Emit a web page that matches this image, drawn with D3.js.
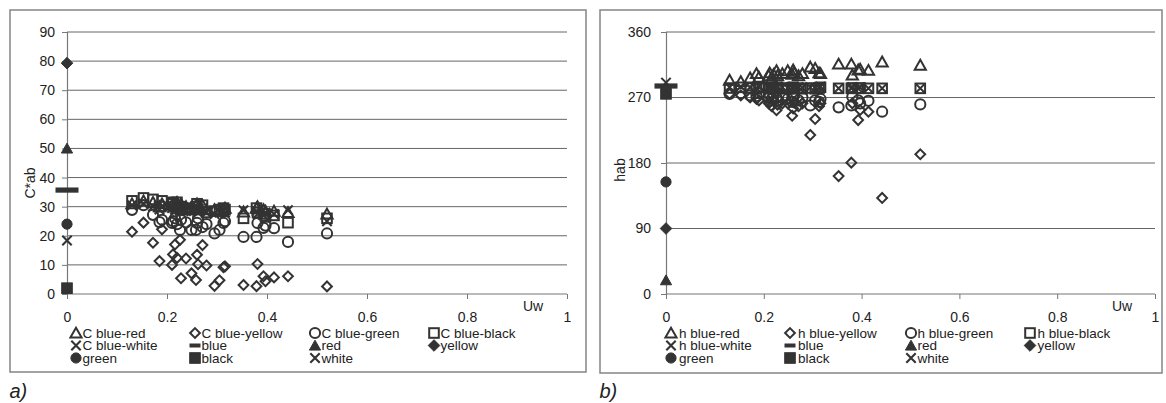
<!DOCTYPE html>
<html><head><meta charset="utf-8">
<script src="https://cdn.jsdelivr.net/npm/d3@7"></script>
<style>
body{margin:0;background:#fff}
text{font-family:"Liberation Sans",Arial,sans-serif;fill:#222}
</style>
</head><body>
<svg id="c" width="1166" height="403"></svg>
<script>
// ---- data ----
const uw = [0.130,0.153,0.172,0.185,0.190,0.210,0.212,0.216,0.220,0.226,0.228,0.238,0.249,0.258,0.260,0.262,0.271,0.279,0.295,0.305,0.313,0.316,0.353,0.379,0.381,0.393,0.397,0.414,0.442,0.520];

const cBlueRed    = [31,32,31.5,30,31,30.5,31,30,31.5,30,31,30,29.5,30.5,31,29.5,30.5,29,29,28.5,29,29.5,28.2,29.5,30,29,28.5,28.5,28,27.5];
const cBlueYellow = [21.4,24.5,17.6,11.3,22.2,10,13.6,17,12.4,18.6,5.4,12.2,7.1,4.8,13.5,10.2,16.8,9.8,2.8,4.7,9.2,9.5,3.1,2.7,10.3,6.1,4.4,5.7,6.1,2.6];
const cBlueGreen  = [28.9,30.5,27.2,24.7,25.5,24.4,25,26,24,22,25.5,24.6,22,22,24.4,26,23,24,20.8,22,24.4,25,19.6,19.6,24.4,22.7,23.5,22.6,17.9,20.8];
const cBlueBlack  = [32,33,32.5,30,32,31,31.5,30,31.5,30,29,29.5,29,30,31,29,30.5,28,28.5,29,29.5,29,26,29.5,28,27.5,26.5,27,24.5,26];
const cBlueWhite  = [30.5,31,30,29,30,29.5,30,29,29.5,28.5,29.5,28.5,28.5,29,29.5,28,29,28,27.5,28,28.5,28,28.8,28.5,27.5,27,28,27.5,28.8,25];

const hBlueRed    = [294,292,297,303,298,300,304,297,302,307,300,303,307,302,308,304,300,303,312,310,304,303,316,316,301,308,309,307.5,319,314.5];
const hBlueYellow = [275,273,270,268,266,262,264,258,265,252.5,260,262,262,245,255,263,258,262,218.5,240.5,258,262,162,180.5,262,239,252.8,250.5,132,192];
const hBlueGreen  = [275,276,273,272,276,270,274,268,272,270,266,271,268,264,270,273,266,270,259,266,264,268,256.5,259,271,266,262,265.5,250.5,260.5];
const hBlueBlack  = [283,284,283,282,284,283,282,284,283,282,284,283,282,283,284,282,283,282,283,282,283,284,282.6,282.6,283,282.6,283,282.6,282.6,282.6];
const hBlueWhite  = [284,285,284,283,285,284,283,285,284,283,285,284,283,284,285,283,284,283,284,283,284,285,282.6,282.6,284,282.6,284,282.6,282.6,282.6];

const singleNames = ["blue","red","yellow","green","black","white"];
const singleUw = [0,0,0,0,0,0];
const cSingle = [35.7,50,79.3,24,2,18.4];
const hSingle = [285.8,19,90,154,275,290.5];

const cSeriesNames = ["C blue-red","C blue-yellow","C blue-green","C blue-black","C blue-white"];
const hSeriesNames = ["h blue-red","h blue-yellow","h blue-green","h blue-black","h blue-white"];

const uwTicks = [0,0.2,0.4,0.6,0.8,1];
const cTicks = [0,10,20,30,40,50,60,70,80,90];
const hTicks = [0,90,180,270,360];

// ---- drawing ----
const svg = d3.select("#c");
const INK = "#333";

const shapes = ["tri","dia","cir","sq","x"];
const singleShapes = ["dash","tri","dia","cir","sq","x"];

function drawMarker(g, type, cx, cy, filled, legend){
  const s = g.append("g").attr("transform",`translate(${cx},${cy})`);
  const fill = filled ? INK : "none";
  const sw = 2;
  if(type==="tri"){
    s.append("path").attr("d","M0,-5.3L5.6,4.6L-5.6,4.6Z").attr("fill",fill).attr("stroke",INK).attr("stroke-width",filled?1:sw);
  } else if(type==="dia"){
    const r = filled ? 5.8 : 4.9;
    s.append("path").attr("d",`M0,${-r}L${r},0L0,${r}L${-r},0Z`).attr("fill",fill).attr("stroke",INK).attr("stroke-width",filled?1:sw);
  } else if(type==="cir"){
    s.append("circle").attr("r",5.1).attr("fill",fill).attr("stroke",INK).attr("stroke-width",filled?1:sw);
  } else if(type==="sq"){
    const r = filled?5.3:4.8;
    s.append("rect").attr("x",-r).attr("y",-r).attr("width",2*r).attr("height",2*r).attr("fill",fill).attr("stroke",INK).attr("stroke-width",filled?1:sw);
  } else if(type==="x"){
    s.append("path").attr("d","M-4.7,-4.7L4.7,4.7M4.7,-4.7L-4.7,4.7").attr("fill","none").attr("stroke",INK).attr("stroke-width",2.1);
  } else if(type==="dash"){
    const w = legend?5.5:11.5, h = legend?2:2.6;
    s.append("rect").attr("x",-w).attr("y",-h).attr("width",2*w).attr("height",2*h).attr("fill",INK);
  }
}

function panel(cfg){
  const g = svg.append("g");
  g.append("rect").attr("x",cfg.bx).attr("y",cfg.by).attr("width",cfg.bw).attr("height",cfg.bh)
    .attr("fill","none").attr("stroke","#858585").attr("stroke-width",1.5);

  const x = d3.scaleLinear().domain([0,1]).range([cfg.x0,cfg.x1]);
  const y = d3.scaleLinear().domain([0,cfg.ymax]).range([cfg.y0,cfg.y1]);

  g.append("g").selectAll("line").data(cfg.yTicks.filter(d=>d>0)).join("line")
    .attr("x1",cfg.x0).attr("x2",cfg.x1).attr("y1",d=>y(d)).attr("y2",d=>y(d))
    .attr("stroke","#666").attr("stroke-width",1);

  const ya = g.append("g").attr("transform",`translate(${cfg.x0},0)`)
    .call(d3.axisLeft(y).tickValues(cfg.yTicks).tickSize(5).tickPadding(cfg.yPad).tickFormat(d=>String(d)));
  ya.select(".domain").attr("stroke","#777").attr("stroke-width",1.2);
  ya.selectAll(".tick line").attr("stroke","#777");
  ya.selectAll("text").attr("font-size",14).attr("fill","#222").attr("font-family",'"Liberation Sans",Arial,sans-serif');

  const xa = g.append("g").attr("transform",`translate(0,${cfg.y0})`)
    .call(d3.axisBottom(x).tickValues(uwTicks).tickSize(5).tickPadding(13).tickFormat(d=>String(d)));
  xa.select(".domain").attr("stroke","#777").attr("stroke-width",1.2).attr("d",`M${cfg.x0},0H${cfg.x1}`);
  xa.selectAll(".tick line").attr("stroke","#777");
  xa.selectAll("text").attr("font-size",14).attr("fill","#222").attr("font-family",'"Liberation Sans",Arial,sans-serif');

  g.append("text").attr("transform",`translate(${cfg.ylx},${cfg.yly}) rotate(-90)`)
    .attr("text-anchor","middle").attr("font-size",14).text(cfg.yTitle);
  g.append("text").attr("x",cfg.uwx).attr("y",311).attr("font-size",14).text("Uw");

  const mg = g.append("g");
  cfg.series.forEach((vals,si)=>{
    vals.forEach((v,i)=>drawMarker(mg, shapes[si], x(uw[i]), y(v), false, false));
  });
  cfg.singles.forEach((v,i)=>{
    drawMarker(mg, singleShapes[i], x(singleUw[i]), y(v), singleShapes[i]!=="x", false);
  });

  const items = cfg.names.map((n,i)=>({name:n, shape:shapes[i], filled:false}))
    .concat(singleNames.map((n,i)=>({name:n, shape:singleShapes[i], filled:singleShapes[i]!=="x"})));
  const rows = [337.5,350,362.5];
  const lg = g.append("g");
  items.forEach((it,i)=>{
    const col = i%4, row = Math.floor(i/4);
    const mx = cfg.legCols[col], by = rows[row];
    drawMarker(lg, it.shape, mx, by-4.5, it.filled, true);
    lg.append("text").attr("x",mx+cfg.legOff[col]).attr("y",by).attr("font-size",13.5).text(it.name);
  });

  svg.append("text").attr("x",cfg.bx-0.5).attr("y",398).attr("font-size",20).attr("font-style","italic").text(cfg.label);
}

panel({bx:10,by:10,bw:576,bh:362,x0:67,x1:567,y0:294,y1:32,ymax:90,yTicks:cTicks,yPad:7,
  yTitle:"C*ab",ylx:35,yly:183,uwx:523,series:[cBlueRed,cBlueYellow,cBlueGreen,cBlueBlack,cBlueWhite],
  singles:cSingle,names:cSeriesNames,legCols:[76,195,315,434],legOff:[6.5,6.5,6.5,6.5],label:"a)"});

panel({bx:600,by:10,bw:562,bh:363,x0:666,x1:1155,y0:294,y1:32,ymax:360,yTicks:hTicks,yPad:10,
  yTitle:"hab",ylx:625,yly:170,uwx:1112,series:[hBlueRed,hBlueYellow,hBlueGreen,hBlueBlack,hBlueWhite],
  singles:hSingle,names:hSeriesNames,legCols:[671,790,911,1030],legOff:[8,8,6.5,7.5],label:"b)"});
</script>
</body></html>
